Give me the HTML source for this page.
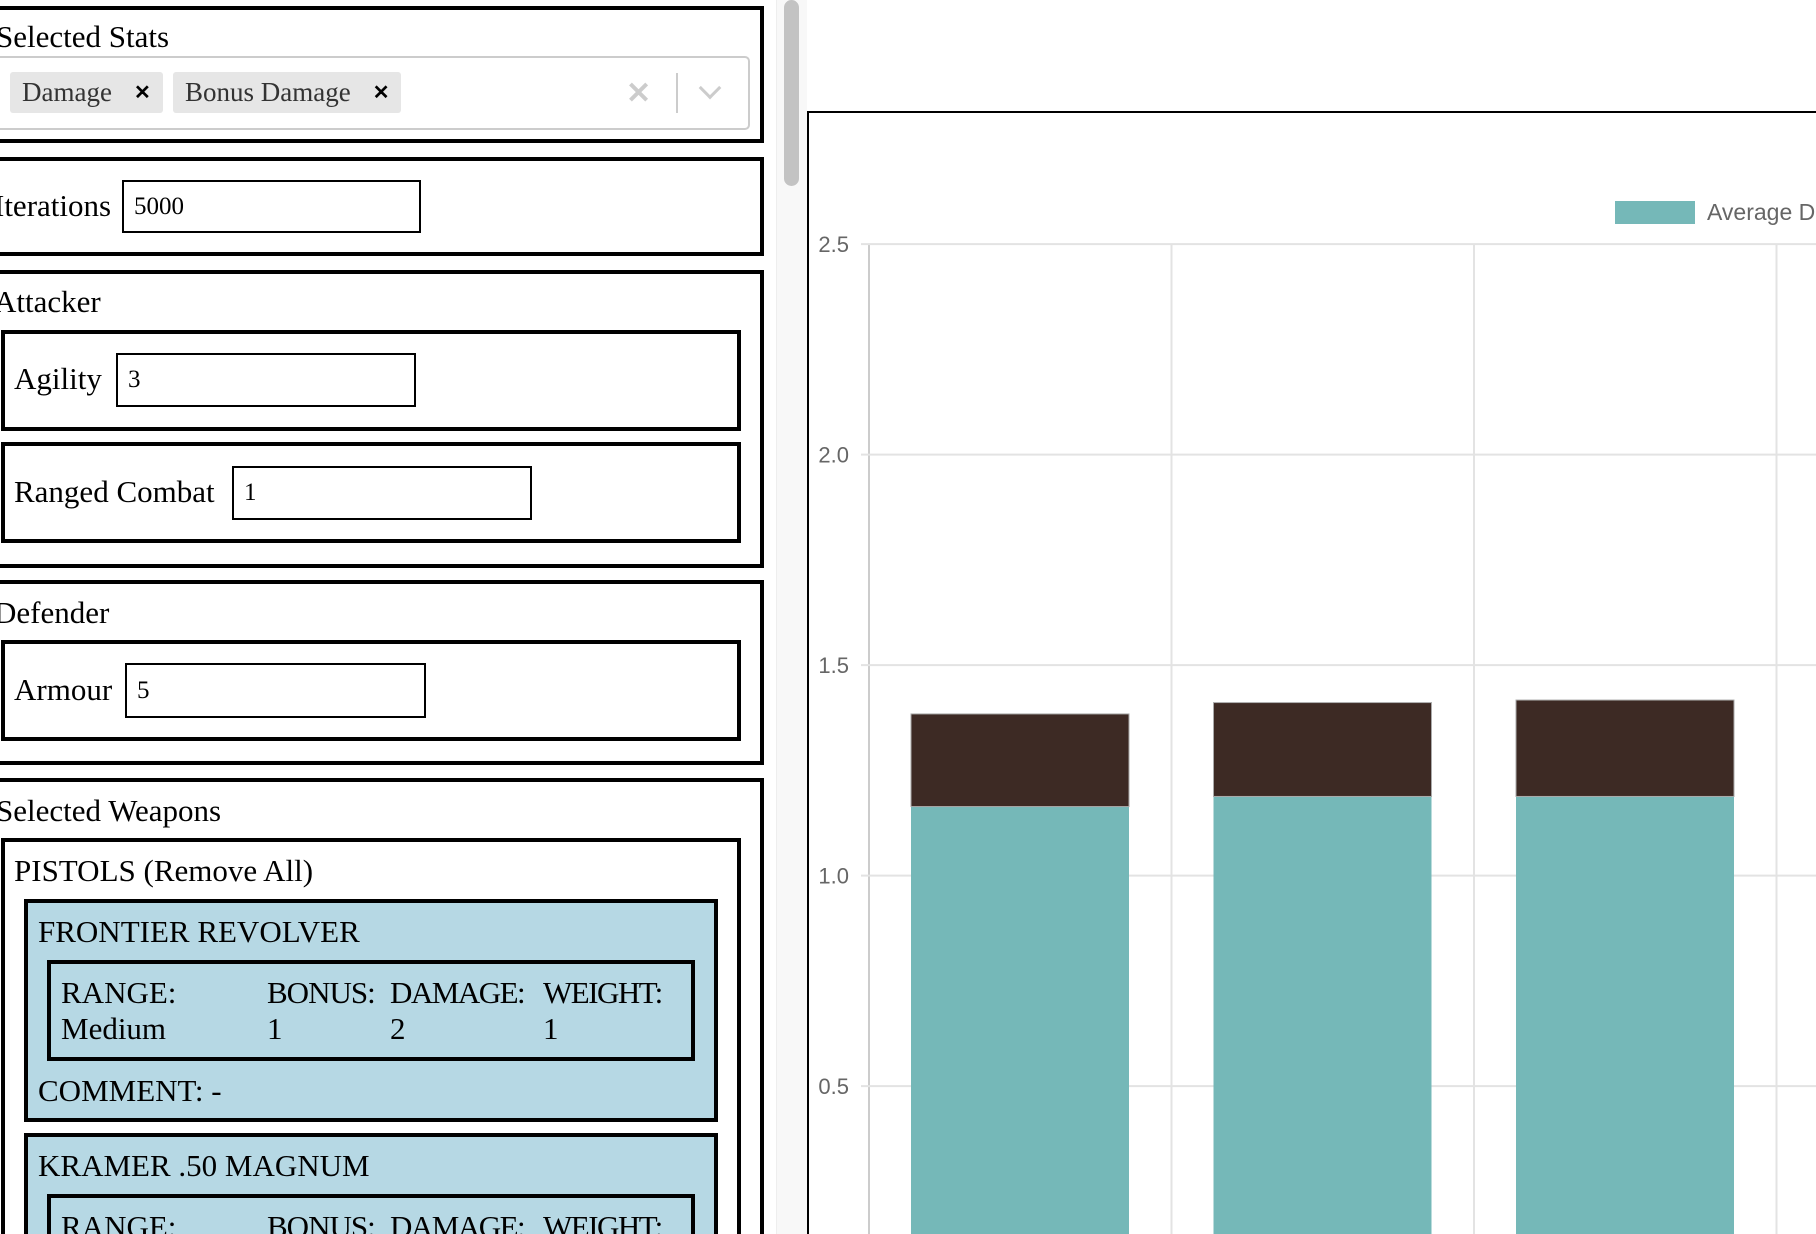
<!DOCTYPE html>
<html style="overflow:hidden"><head><meta charset="utf-8"><style>
html,body{margin:0;width:1816px;height:1234px;overflow:hidden}
body{background:#fff;font-family:"Liberation Serif",serif;color:#000}
#wrap{position:relative;width:1816px;height:1234px;overflow:hidden}
.a{position:absolute;box-sizing:border-box}
.box{border:4px solid #000}
.t{position:absolute;font-size:31px;white-space:nowrap;line-height:1}
.inp{position:absolute;box-sizing:border-box;border:2px solid #000;font-size:25px;padding:0 10px;display:flex;align-items:center}
.chip{position:absolute;background:#e6e6e6;border-radius:3px;font-size:27px;color:#333;display:flex;align-items:center;padding-left:12px;box-sizing:border-box}
.card{position:absolute;background:#b6d8e4;border:4px solid #000;box-sizing:border-box}
</style></head><body><div id="wrap">
<div class="a box" style="left:-10px;top:6px;width:774px;height:137px"></div>
<div class="t" style="left:-4px;top:21px">Selected Stats</div>
<div class="a" style="left:-10px;top:56px;width:760px;height:74px;border:2px solid #ccc;border-radius:5px"></div>
<div class="chip" style="left:10px;top:72px;width:153px;height:41px">Damage<span style="margin-left:22px;font-family:'Liberation Sans';font-weight:bold;font-size:20px;color:#000">✕</span></div>
<div class="chip" style="left:173px;top:72px;width:228px;height:41px">Bonus Damage<span style="margin-left:22px;font-family:'Liberation Sans';font-weight:bold;font-size:20px;color:#000">✕</span></div>
<div class="a" style="left:626px;top:76px;font-family:'Liberation Sans';font-size:30px;font-weight:bold;color:#ccc">✕</div>
<div class="a" style="left:676px;top:73px;width:2px;height:40px;background:#ccc"></div>
<div class="a" style="left:702px;top:80px;width:16px;height:16px;border-right:3px solid #ccc;border-bottom:3px solid #ccc;transform:rotate(45deg)"></div>

<div class="a box" style="left:-10px;top:157px;width:774px;height:99px"></div>
<div class="t" style="left:-6px;top:190px">Iterations</div>
<div class="inp" style="left:122px;top:180px;width:299px;height:53px">5000</div>

<div class="a box" style="left:-10px;top:270px;width:774px;height:298px"></div>
<div class="t" style="left:-6px;top:286px">Attacker</div>
<div class="a box" style="left:1px;top:330px;width:740px;height:101px"></div>
<div class="t" style="left:14px;top:363px">Agility</div>
<div class="inp" style="left:116px;top:353px;width:300px;height:54px">3</div>
<div class="a box" style="left:1px;top:442px;width:740px;height:101px"></div>
<div class="t" style="left:14px;top:476px">Ranged Combat</div>
<div class="inp" style="left:232px;top:466px;width:300px;height:54px">1</div>

<div class="a box" style="left:-10px;top:580px;width:774px;height:185px"></div>
<div class="t" style="left:-6px;top:597px">Defender</div>
<div class="a box" style="left:1px;top:640px;width:740px;height:101px"></div>
<div class="t" style="left:14px;top:674px">Armour</div>
<div class="inp" style="left:125px;top:663px;width:301px;height:55px">5</div>

<div class="a box" style="left:-10px;top:778px;width:774px;height:456px;border-bottom:none"></div>
<div class="t" style="left:-4px;top:795px">Selected Weapons</div>
<div class="a box" style="left:1px;top:838px;width:740px;height:396px;border-bottom:none"></div>
<div class="t" style="left:14px;top:855px">PISTOLS (Remove All)</div>

<div class="card" style="left:24px;top:899px;width:694px;height:223px"></div>
<div class="t" style="left:38px;top:916px">FRONTIER REVOLVER</div>
<div class="a box" style="left:47px;top:960px;width:648px;height:101px"></div>
<div class="t" style="left:61px;top:977px">RANGE:</div>
<div class="t" style="left:267px;top:977px;letter-spacing:-1px">BONUS:</div>
<div class="t" style="left:390px;top:977px;letter-spacing:-1.5px">DAMAGE:</div>
<div class="t" style="left:543px;top:977px;letter-spacing:-1.5px">WEIGHT:</div>
<div class="t" style="left:61px;top:1013px">Medium</div>
<div class="t" style="left:267px;top:1013px">1</div>
<div class="t" style="left:390px;top:1013px">2</div>
<div class="t" style="left:543px;top:1013px">1</div>
<div class="t" style="left:38px;top:1075px">COMMENT: -</div>

<div class="card" style="left:24px;top:1133px;width:694px;height:101px;border-bottom:none"></div>
<div class="t" style="left:38px;top:1150px">KRAMER .50 MAGNUM</div>
<div class="a box" style="left:47px;top:1194px;width:648px;height:40px;border-bottom:none"></div>
<div class="t" style="left:61px;top:1211px">RANGE:</div>
<div class="t" style="left:267px;top:1211px;letter-spacing:-1px">BONUS:</div>
<div class="t" style="left:390px;top:1211px;letter-spacing:-1.5px">DAMAGE:</div>
<div class="t" style="left:543px;top:1211px;letter-spacing:-1.5px">WEIGHT:</div>

<div class="a" style="left:776px;top:0;width:31px;height:1234px;background:#f8f8f8;border-left:1px solid #eee"></div>
<div class="a" style="left:784px;top:0;width:15px;height:186px;background:#c3c3c3;border-radius:8px"></div>

<svg class="a" style="left:0;top:0" width="1816" height="1234" id="chart"></svg>
</div>
<script>
const categories=["Frontier Revolver","Kramer .50 Magnum","Pistol 3"];
const avgDamage=[1.164,1.188,1.188];
const avgBonus=[0.22,0.223,0.229];
const yTicks=[0.5,1.0,1.5,2.0,2.5];
const yTickLabels=["0.5","1.0","1.5","2.0","2.5"];
const svg=document.getElementById('chart');
const NS='http://www.w3.org/2000/svg';
function mk(t,a){const e=document.createElementNS(NS,t);for(const k in a)e.setAttribute(k,a[k]);svg.appendChild(e);return e;}
const x0=869,step=302.5,bw=218,padIn=42;
function y(v){return 1296.6-v*421;}
function xc(i){return x0+i*step;}
let e=mk('path',{d:'M808 1234 V112 H1816',fill:'none',stroke:'#000','stroke-width':2});


for(let i=0;i<=3;i++){
 e=mk('line',{x1:xc(i),x2:xc(i),y1:244,y2:1234,stroke:i==0?'#ccc':'#e3e3e3','stroke-width':2});
 
 
}
yTicks.forEach((v,i)=>{
 e=mk('line',{x1:x0-8,x2:1816,y1:y(v),y2:y(v),stroke:'#e3e3e3','stroke-width':2});
 
 
 e=mk('text',{x:849,y:y(v)+8,'text-anchor':'end','font-family':'Liberation Sans','font-size':22,fill:'#666'});
 e.textContent=yTickLabels[i];
 
 
});
categories.forEach((c,i)=>{
 const bx=xc(i)+padIn;
 e=mk('rect',{x:bx,y:y(avgDamage[i]),width:bw,height:1234-y(avgDamage[i]),fill:'#75b8b8'});
 
 
 const top=avgDamage[i]+avgBonus[i];
 e=mk('rect',{x:bx,y:y(top),width:bw,height:y(avgDamage[i])-y(top),fill:'#3d2a24',stroke:'#aaa','stroke-width':1});
 
 
});
e=mk('rect',{x:1615,y:201,width:80,height:23,fill:'#75b8b8'});


e=mk('text',{x:1707,y:220,'font-family':'Liberation Sans','font-size':23,fill:'#666'});
e.textContent='Average Damage';


</script>
</body></html>
